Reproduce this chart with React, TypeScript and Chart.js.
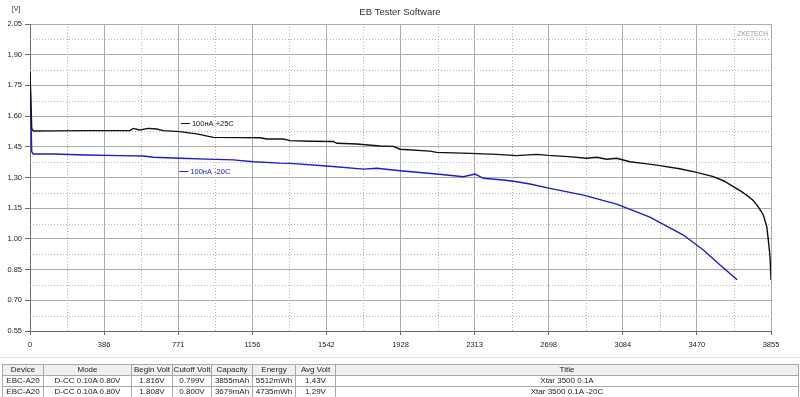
import React, { useEffect, useRef } from 'react';
import { Chart, registerables } from 'chart.js';

Chart.register(...registerables);

// ---- axis ticks ----
const X_TICK_VALUES = [0, 385.5, 771, 1156.5, 1542, 1927.5, 2313, 2698.5, 3084, 3469.5, 3855];
const X_TICK_LABELS = ['0', '386', '771', '1156', '1542', '1928', '2313', '2698', '3084', '3470', '3855'];
const Y_TICK_VALUES = [0.55, 0.7, 0.85, 1.0, 1.15, 1.3, 1.45, 1.6, 1.75, 1.9, 2.05];

// ---- series: 100нА +25C (capacity mAh, voltage V) ----
const WARM_CAPACITY = [0, 9, 17, 120, 300, 520, 537, 572, 615, 659, 693, 780, 867, 954, 1100, 1197, 1231, 1318, 1353, 1457, 1578, 1596, 1700, 1821, 1890, 1925, 2081, 2116, 2289, 2428, 2532, 2636, 2697, 2800, 2896, 2948, 3000, 3052, 3121, 3200, 3277, 3380, 3468, 3555, 3610, 3659, 3700, 3728, 3760, 3781, 3800, 3815, 3833, 3841, 3850, 3855];
const WARM_VOLTAGE = [1.816, 1.54, 1.527, 1.528, 1.529, 1.529, 1.54, 1.532, 1.54, 1.537, 1.529, 1.524, 1.513, 1.496, 1.495, 1.494, 1.488, 1.488, 1.48, 1.477, 1.476, 1.467, 1.464, 1.454, 1.452, 1.438, 1.429, 1.423, 1.418, 1.413, 1.407, 1.413, 1.408, 1.402, 1.394, 1.399, 1.389, 1.394, 1.377, 1.368, 1.358, 1.343, 1.325, 1.304, 1.283, 1.255, 1.232, 1.214, 1.19, 1.166, 1.14, 1.117, 1.06, 0.995, 0.913, 0.799];

// ---- series: 100нА -20C ----
const COLD_CAPACITY = [0, 9, 17, 120, 294, 468, 590, 642, 780, 919, 1058, 1162, 1301, 1353, 1544, 1735, 1804, 1925, 2116, 2255, 2315, 2359, 2463, 2532, 2601, 2705, 2879, 3052, 3225, 3399, 3503, 3590, 3679];
const COLD_VOLTAGE = [1.808, 1.426, 1.415, 1.415, 1.41, 1.407, 1.405, 1.399, 1.394, 1.39, 1.386, 1.377, 1.37, 1.369, 1.356, 1.341, 1.345, 1.333, 1.317, 1.304, 1.317, 1.296, 1.288, 1.279, 1.268, 1.247, 1.214, 1.17, 1.106, 1.019, 0.946, 0.872, 0.8];

// ---- in-plot labels ----
const LABEL_TEXTS = ['100нА +25C', '100нА -20C'];
const LABEL_X = [785, 777];
const LABEL_Y = [1.568, 1.333];
const SERIES_COLORS = ['#101010', '#1c1cc8'];

// ---- table ----
const TABLE_HEADERS = ['Device', 'Mode', 'Begin Volt', 'Cutoff Volt', 'Capacity', 'Energy', 'Avg Volt', 'Title'];
const TABLE_ROWS = [
  ['EBC-A20', 'D-CC 0.10A 0.80V', '1.816V', '0.799V', '3855mAh', '5512mWh', '1.43V', 'Xtar 3500 0.1A'],
  ['EBC-A20', 'D-CC 0.10A 0.80V', '1.808V', '0.800V', '3679mAh', '4735mWh', '1.29V', 'Xtar 3500 0.1A -20C'],
];
const COL_WIDTHS = [41, 88, 41, 39, 41, 43, 40, 463];

const FONT = '"Liberation Sans", Arial, sans-serif';

const toPoints = (xs: number[], ys: number[]) => xs.map((x, i) => ({ x, y: ys[i] }));

const decorPlugin = {
  id: 'decor',
  beforeDatasetsDraw(chart: any) {
    const { ctx, chartArea: a, scales } = chart;
    const xs = scales.x;
    const ys = scales.y;
    ctx.save();
    ctx.strokeStyle = '#b4b4b4';
    ctx.lineWidth = 1;
    ctx.setLineDash([1, 2]);
    for (let i = 0; i < X_TICK_VALUES.length - 1; i++) {
      const v = (X_TICK_VALUES[i] + X_TICK_VALUES[i + 1]) / 2;
      const px = Math.round(xs.getPixelForValue(v)) + 0.5;
      ctx.beginPath();
      ctx.moveTo(px, a.top);
      ctx.lineTo(px, a.bottom);
      ctx.stroke();
    }
    for (let i = 0; i < Y_TICK_VALUES.length - 1; i++) {
      const v = (Y_TICK_VALUES[i] + Y_TICK_VALUES[i + 1]) / 2;
      const py = Math.round(ys.getPixelForValue(v)) + 0.5;
      ctx.beginPath();
      ctx.moveTo(a.left, py);
      ctx.lineTo(a.right, py);
      ctx.stroke();
    }
    ctx.restore();
  },
  afterDraw(chart: any) {
    const { ctx, chartArea: a, scales } = chart;
    ctx.save();
    ctx.textBaseline = 'middle';
    // title
    ctx.fillStyle = '#333';
    ctx.font = `9.5px ${FONT}`;
    ctx.textAlign = 'center';
    ctx.fillText('EB Tester Software', 400, 12);
    // unit
    ctx.font = `7px ${FONT}`;
    ctx.fillText('[V]', 16, 9.5);
    // brand
    ctx.fillStyle = '#9a9a9a';
    ctx.font = `6.6px ${FONT}`;
    ctx.textAlign = 'right';
    ctx.fillText('ZKETECH', a.right - 3, 34);
    // in-plot series labels
    ctx.font = `7.5px ${FONT}`;
    ctx.textAlign = 'left';
    for (let i = 0; i < LABEL_TEXTS.length; i++) {
      const px = scales.x.getPixelForValue(LABEL_X[i]);
      const py = Math.round(scales.y.getPixelForValue(LABEL_Y[i])) + 0.5;
      ctx.strokeStyle = SERIES_COLORS[i];
      ctx.lineWidth = 1;
      ctx.beginPath();
      ctx.moveTo(px, py);
      ctx.lineTo(px + 9, py);
      ctx.stroke();
      ctx.fillStyle = SERIES_COLORS[i];
      ctx.fillText(LABEL_TEXTS[i], px + 11, py);
    }
    ctx.restore();
  },
};

function ChartCanvas() {
  const ref = useRef<HTMLCanvasElement>(null);
  useEffect(() => {
    if (!ref.current) return;
    const tickFont = { family: FONT, size: 7.5 };
    const chart = new Chart(ref.current, {
      type: 'line',
      data: {
        datasets: [
          {
            label: LABEL_TEXTS[0],
            data: toPoints(WARM_CAPACITY, WARM_VOLTAGE),
            borderColor: SERIES_COLORS[0],
            borderWidth: 1.4,
            pointRadius: 0,
            tension: 0,
          },
          {
            label: LABEL_TEXTS[1],
            data: toPoints(COLD_CAPACITY, COLD_VOLTAGE),
            borderColor: SERIES_COLORS[1],
            borderWidth: 1.4,
            pointRadius: 0,
            tension: 0,
          },
        ],
      },
      options: {
        animation: false,
        responsive: false,
        maintainAspectRatio: false,
        devicePixelRatio: 1,
        layout: { padding: { top: 24, right: 29, left: 0, bottom: 0 } },
        plugins: {
          legend: { display: false },
          title: { display: false },
          tooltip: { enabled: false },
        },
        scales: {
          x: {
            type: 'linear',
            min: 0,
            max: 3855,
            afterBuildTicks: (s: any) => {
              s.ticks = X_TICK_VALUES.map((value) => ({ value }));
            },
            afterFit: (s: any) => {
              s.height = 29;
            },
            ticks: {
              callback: (_v: any, i: number) => X_TICK_LABELS[i],
              font: tickFont,
              color: '#222',
              padding: 5,
              maxRotation: 0,
              autoSkip: false,
            },
            grid: { color: '#ababab', lineWidth: 1, tickLength: 4, tickColor: '#6a6a6a' },
            border: { color: '#6a6a6a', width: 1 },
          },
          y: {
            type: 'linear',
            min: 0.55,
            max: 2.05,
            afterBuildTicks: (s: any) => {
              s.ticks = Y_TICK_VALUES.map((value) => ({ value }));
            },
            afterFit: (s: any) => {
              s.width = 30;
            },
            ticks: {
              callback: (v: any) => Number(v).toFixed(2),
              font: tickFont,
              color: '#222',
              padding: 3,
              autoSkip: false,
            },
            grid: { color: '#ababab', lineWidth: 1, tickLength: 5, tickColor: '#6a6a6a' },
            border: { color: '#6a6a6a', width: 1 },
          },
        },
      },
      plugins: [decorPlugin],
    } as any);
    return () => chart.destroy();
  }, []);
  return <canvas ref={ref} width={800} height={360} style={{ display: 'block', width: 800, height: 360 }} />;
}

export default function App() {
  const cell: React.CSSProperties = {
    border: '1px solid #a8a8a8',
    padding: 0,
    height: 10,
    lineHeight: '10px',
    textAlign: 'center',
    whiteSpace: 'nowrap',
    overflow: 'hidden',
  };
  return (
    <div style={{ position: 'fixed', left: 0, top: 0, width: 800, height: 397, background: '#fff', overflow: 'hidden' }}>
      <ChartCanvas />
      <div style={{ position: 'absolute', left: 0, top: 357, width: 800, height: 1, background: '#e2e2e2' }} />
      <table
        style={{
          position: 'absolute',
          left: 2,
          top: 364,
          width: 796,
          borderCollapse: 'collapse',
          tableLayout: 'fixed',
          fontFamily: FONT,
          fontSize: 8,
          color: '#222',
        }}
      >
        <colgroup>
          {COL_WIDTHS.map((w, i) => (
            <col key={i} style={{ width: w }} />
          ))}
        </colgroup>
        <thead>
          <tr style={{ background: '#f0f0f0' }}>
            {TABLE_HEADERS.map((h) => (
              <td key={h} style={cell}>{h}</td>
            ))}
          </tr>
        </thead>
        <tbody>
          {TABLE_ROWS.map((row, r) => (
            <tr key={r}>
              {row.map((c, i) => (
                <td key={i} style={cell}>{c}</td>
              ))}
            </tr>
          ))}
        </tbody>
      </table>
    </div>
  );
}
